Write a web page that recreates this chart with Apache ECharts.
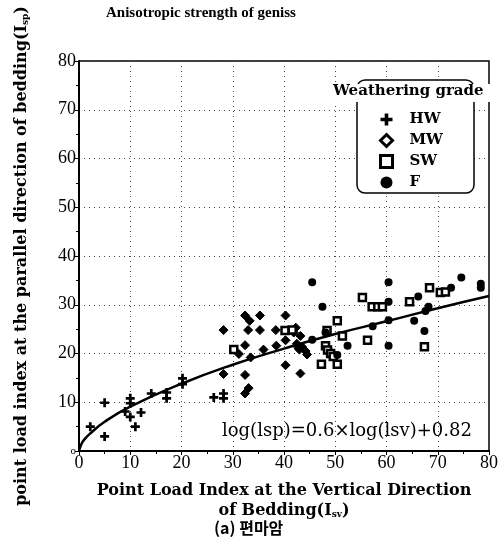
<!DOCTYPE html>
<html>
<head>
<meta charset="utf-8">
<script src="https://cdn.jsdelivr.net/npm/echarts@6/dist/echarts.min.js"></script>
<style>
  html, body { margin: 0; padding: 0; background: #fff; }
  #main { width: 502px; height: 548px; }
</style>
</head>
<body>
<div id="main"></div>
<script>
  // axis ticks
  var xTicks = [0, 10, 20, 30, 40, 50, 60, 70, 80];
  var yTicks = [0, 10, 20, 30, 40, 50, 60, 70, 80];

  // weathering grade groups, [Isv, Isp]
  var hwData = [[2.2, 5.0], [5.0, 9.9], [5.0, 3.0], [9.0, 8.1], [10.0, 10.8], [10.0, 9.8], [10.0, 7.0],
    [12.1, 7.9], [11.0, 5.0], [14.1, 11.8], [17.1, 12.0], [17.1, 10.8], [20.2, 14.9], [20.2, 13.7],
    [26.3, 11.0], [28.2, 11.8], [28.2, 10.8]];
  var mwData = [[28.2, 24.8], [32.4, 27.8], [33.3, 26.7], [35.3, 27.8], [33.0, 24.8], [35.3, 24.8],
    [38.4, 24.8], [40.3, 27.8], [40.3, 22.7], [32.4, 21.7], [31.2, 19.9], [33.5, 19.2], [40.3, 17.6],
    [28.2, 15.8], [32.4, 15.6], [33.1, 12.9], [32.4, 11.8], [42.3, 25.3], [41.9, 24.3], [43.2, 23.6],
    [42.5, 22.0], [43.5, 21.4], [44.2, 20.5], [43.0, 20.8], [44.5, 19.8], [42.8, 21.2], [43.2, 15.9],
    [36.0, 20.8], [38.5, 21.6]];
  var swData = [[30.2, 20.8], [40.2, 24.7], [41.6, 24.8], [55.3, 31.5], [57.2, 29.6], [58.3, 29.6],
    [59.2, 29.6], [50.4, 26.7], [48.4, 24.7], [51.4, 23.6], [56.3, 22.7], [48.1, 21.6], [48.5, 20.7],
    [49.1, 20.0], [49.6, 19.4], [47.3, 17.8], [50.4, 17.8], [64.5, 30.6], [68.4, 33.5], [70.5, 32.5],
    [71.5, 32.6], [67.4, 21.4]];
  var fData = [[45.5, 34.6], [47.5, 29.6], [60.4, 34.6], [60.4, 30.6], [60.4, 26.8], [60.4, 21.6],
    [57.3, 25.6], [52.4, 21.6], [50.4, 19.7], [66.2, 31.7], [72.6, 33.5], [74.6, 35.6], [78.4, 34.3],
    [78.4, 33.5], [65.4, 26.7], [67.4, 24.6], [67.6, 28.7], [68.2, 29.6], [45.5, 22.8], [48.1, 24.3]];

  // fitted curve log(Isp)=0.6 log(Isv)+0.82
  var fitX = [0, 0.5, 1, 2, 5, 10, 20, 30, 40, 50, 60, 70, 80];
  var fitY = [0, 1.5, 2.3, 3.4, 6.0, 9.1, 13.8, 17.7, 21.0, 24.0, 26.6, 29.3, 31.8];

  var serif = '"DejaVu Serif", "Liberation Serif", serif';
  var plusPath = 'path://M-1.2,-4H1.2V-1.2H4V1.2H1.2V4H-1.2V1.2H-4V-1.2H-1.2Z';

  var myChart = echarts.init(document.getElementById('main'));

  var option = {
    backgroundColor: '#fff',
    animation: false,
    grid: {
      left: 79, right: 13, top: 61, bottom: 97,
      show: true, borderColor: '#000', borderWidth: 1.5
    },
    xAxis: {
      type: 'value', min: 0, max: 80, interval: 10,
      axisLine: { lineStyle: { color: '#000', width: 2 } },
      axisTick: { length: 4, lineStyle: { color: '#000' } },
      minorTick: { show: true, splitNumber: 2, length: 3, lineStyle: { color: '#000' } },
      splitLine: { lineStyle: { color: '#444', type: [1, 4], width: 1 } },
      axisLabel: { color: '#000', fontFamily: '"Liberation Serif", serif', fontSize: 18, margin: 3 },
      name: 'Point Load Index at the Vertical Direction\nof Bedding({n|I}{sub|sv})',
      nameLocation: 'middle', nameGap: 30,
      nameTextStyle: {
        color: '#000', fontFamily: serif, fontWeight: 'bold', fontSize: 16, lineHeight: 20,
        verticalAlign: 'top',
        rich: {
          n: { fontFamily: serif, fontWeight: 'bold', fontSize: 16, color: '#000' },
          sub: { fontFamily: serif, fontWeight: 'bold', fontSize: 9, color: '#000', padding: [7, 0, 0, 0] }
        }
      }
    },
    yAxis: {
      type: 'value', min: 0, max: 80, interval: 10,
      axisLine: { lineStyle: { color: '#000', width: 2 } },
      axisTick: { length: 4, lineStyle: { color: '#000' } },
      minorTick: { show: true, splitNumber: 2, length: 3, lineStyle: { color: '#000' } },
      splitLine: { lineStyle: { color: '#444', type: [1, 4], width: 1 } },
      axisLabel: {
        color: '#000', fontFamily: '"Liberation Serif", serif', fontSize: 18, margin: 3,
        formatter: function (v) { return v === 0 ? '{s|o}' : String(v); },
        rich: { s: { fontSize: 11, color: '#000', fontFamily: '"Liberation Serif", serif' } }
      },
      name: 'point load index at the parallel direction of bedding({n|I}{sub|sp})',
      nameLocation: 'middle', nameGap: 49, nameRotate: 90,
      nameTextStyle: {
        color: '#000', fontFamily: serif, fontWeight: 'bold', fontSize: 16,
        rich: {
          n: { fontFamily: serif, fontWeight: 'bold', fontSize: 16, color: '#000' },
          sub: { fontFamily: serif, fontWeight: 'bold', fontSize: 9, color: '#000', padding: [7, 0, 0, 0] }
        }
      }
    },
    legend: {
      orient: 'vertical', left: 374, top: 107, z: 12,
      itemWidth: 12, itemHeight: 12, itemGap: 6,
      textStyle: { color: '#000', fontFamily: serif, fontWeight: 'bold', fontSize: 15, padding: [0, 0, 0, 12] },
      data: [
        { name: 'HW', icon: plusPath, itemStyle: { color: '#000' } },
        { name: 'MW', icon: 'diamond', itemStyle: { color: '#fff', borderColor: '#000', borderWidth: 3 } },
        { name: 'SW', icon: 'rect', itemStyle: { color: '#fff', borderColor: '#000', borderWidth: 3 } },
        { name: 'F', icon: 'circle', itemStyle: { color: '#000' } }
      ]
    },
    graphic: [
      {
        type: 'rect', z: 10, silent: true,
        shape: { x: 357, y: 80, width: 117, height: 113, r: 8 },
        style: { fill: '#fff', stroke: '#000', lineWidth: 1.5 }
      },
      {
        type: 'rect', z: 11, silent: true,
        shape: { x: 333, y: 84, width: 169, height: 18 },
        style: { fill: '#fff' }
      },
      {
        type: 'text', z: 12, left: 333, top: 84,
        style: { text: 'Weathering grade', fill: '#000', font: 'bold 15px ' + serif }
      },
      {
        type: 'text', left: 106, top: 6,
        style: { text: 'Anisotropic strength of geniss', fill: '#000', font: 'bold 15px "Liberation Serif", serif' }
      },
      {
        type: 'text', left: 222, top: 422, z: 12,
        style: { text: 'log(lsp)=0.6×log(lsv)+0.82', fill: '#000', font: '18px "DejaVu Serif", serif' }
      },
      {
        type: 'text', left: 214, top: 520,
        style: { text: '(a) 편마암', fill: '#000', font: 'bold 16px "Noto Sans CJK KR", ' + serif }
      }
    ],
    series: [
      {
        name: 'fit', type: 'line', data: fitX.map(function (x, i) { return [x, fitY[i]]; }),
        smooth: true, showSymbol: false, z: 3,
        lineStyle: { color: '#000', width: 2.5 }
      },
      {
        name: 'HW', type: 'scatter', data: hwData, symbol: plusPath, symbolSize: 9, z: 4,
        itemStyle: { color: '#000', opacity: 1 }
      },
      {
        name: 'MW', type: 'scatter', data: mwData, symbol: 'diamond', symbolSize: 9, z: 4,
        itemStyle: { color: '#000', borderColor: '#000', borderWidth: 1, opacity: 1 }
      },
      {
        name: 'SW', type: 'scatter', data: swData, symbol: 'rect', symbolSize: 7, z: 4,
        itemStyle: { color: '#fff', borderColor: '#000', borderWidth: 2.5, opacity: 1 }
      },
      {
        name: 'F', type: 'scatter', data: fData, symbol: 'circle', symbolSize: 8, z: 4,
        itemStyle: { color: '#000', opacity: 1 }
      }
    ]
  };

  myChart.setOption(option);
</script>
</body>
</html>
